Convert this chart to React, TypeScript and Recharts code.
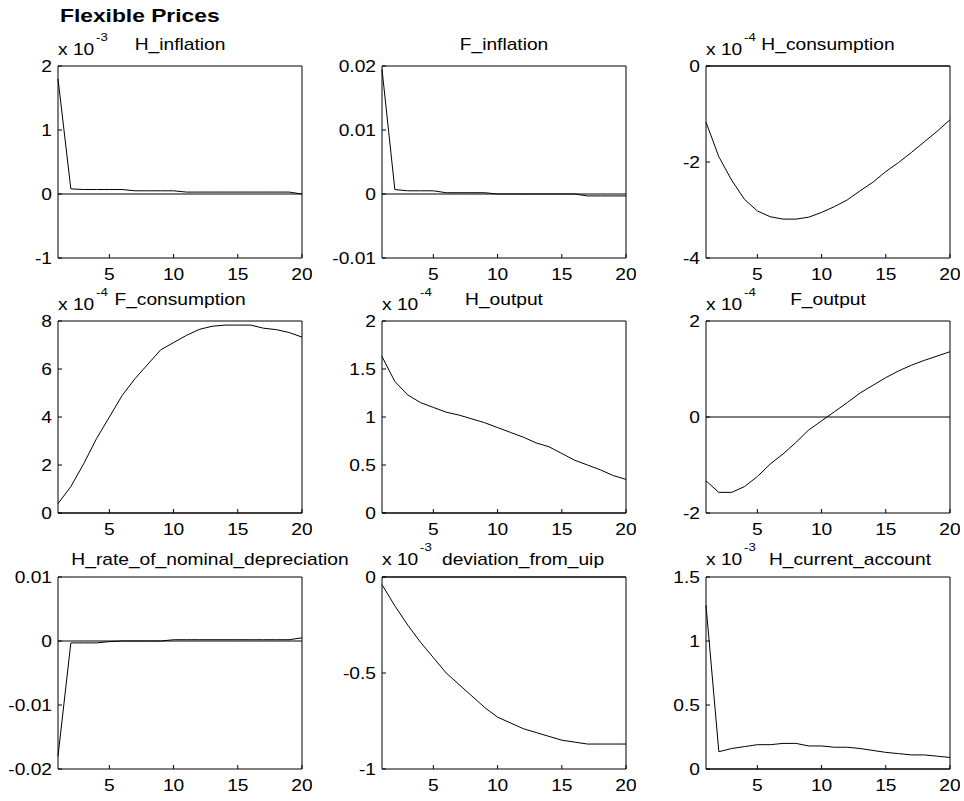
import React from 'react';
import { LineChart, Line, XAxis, YAxis, ReferenceLine } from 'recharts';

// periods of the impulse response
const periods = [1, 2, 3, 4, 5, 6, 7, 8, 9, 10, 11, 12, 13, 14, 15, 16, 17, 18, 19, 20];

// values (already in the units of its own axis)
const hInflation = [1.8, 0.08, 0.07, 0.07, 0.07, 0.07, 0.05, 0.05, 0.05, 0.05, 0.03, 0.03, 0.03, 0.03, 0.03, 0.03, 0.03, 0.03, 0.03, 0.0]; // x 10^-3
const fInflation = [0.0195, 0.0007, 0.0005, 0.0005, 0.0005, 0.0002, 0.0002, 0.0002, 0.0002, 0.0, 0.0, 0.0, 0.0, 0.0, 0.0, 0.0, -0.0003, -0.0003, -0.0003, -0.0003];
const hConsumption = [-1.17, -1.89, -2.38, -2.78, -3.02, -3.14, -3.19, -3.19, -3.15, -3.05, -2.93, -2.79, -2.6, -2.42, -2.2, -2.01, -1.8, -1.58, -1.36, -1.12]; // x 10^-4
const fConsumption = [0.39, 1.1, 2.05, 3.1, 4.0, 4.9, 5.6, 6.2, 6.8, 7.1, 7.4, 7.65, 7.78, 7.83, 7.83, 7.83, 7.7, 7.64, 7.52, 7.33]; // x 10^-4
const hOutput = [1.63, 1.37, 1.23, 1.15, 1.1, 1.05, 1.02, 0.98, 0.94, 0.89, 0.84, 0.79, 0.73, 0.69, 0.62, 0.55, 0.5, 0.45, 0.39, 0.35]; // x 10^-4
const fOutput = [-1.33, -1.57, -1.57, -1.45, -1.24, -0.98, -0.77, -0.53, -0.27, -0.08, 0.11, 0.3, 0.5, 0.66, 0.82, 0.96, 1.08, 1.18, 1.27, 1.36]; // x 10^-4
const hDepreciation = [-0.018, -0.0003, -0.0003, -0.0003, -0.0001, 0.0, 0.0, 0.0, 0.0, 0.0002, 0.0002, 0.0002, 0.0002, 0.0002, 0.0002, 0.0002, 0.0002, 0.0002, 0.0002, 0.0005];
const deviationUip = [-0.04, -0.15, -0.25, -0.34, -0.42, -0.5, -0.56, -0.62, -0.68, -0.73, -0.76, -0.79, -0.81, -0.83, -0.85, -0.86, -0.87, -0.87, -0.87, -0.87]; // x 10^-3
const hCurrentAccount = [1.28, 0.135, 0.16, 0.175, 0.19, 0.19, 0.2, 0.2, 0.18, 0.18, 0.17, 0.17, 0.16, 0.145, 0.13, 0.12, 0.11, 0.11, 0.1, 0.09]; // x 10^-3

const xTicks = [5, 10, 15, 20];

const panels = [
  { title: 'H_inflation', values: hInflation, domain: [-1, 2], ticks: [-1, 0, 1, 2], exp: '-3', dx: 0 },
  { title: 'F_inflation', values: fInflation, domain: [-0.01, 0.02], ticks: [-0.01, 0, 0.01, 0.02], exp: '', dx: 0 },
  { title: 'H_consumption', values: hConsumption, domain: [-4, 0], ticks: [-4, -2, 0], exp: '-4', dx: 0 },
  { title: 'F_consumption', values: fConsumption, domain: [0, 8], ticks: [0, 2, 4, 6, 8], exp: '-4', dx: 0 },
  { title: 'H_output', values: hOutput, domain: [0, 2], ticks: [0, 0.5, 1, 1.5, 2], exp: '-4', dx: 0 },
  { title: 'F_output', values: fOutput, domain: [-2, 2], ticks: [-2, 0, 2], exp: '-4', dx: 0 },
  { title: 'H_rate_of_nominal_depreciation', values: hDepreciation, domain: [-0.02, 0.01], ticks: [-0.02, -0.01, 0, 0.01], exp: '', dx: 30 },
  { title: 'deviation_from_uip', values: deviationUip, domain: [-1, 0], ticks: [-1, -0.5, 0], exp: '-3', dx: 19 },
  { title: 'H_current_account', values: hCurrentAccount, domain: [0, 1.5], ticks: [0, 0.5, 1, 1.5], exp: '-3', dx: 22 },
];

// layout of the 3x3 grid (plot box corners)
const colX = [58, 382, 706];
const rowY = [66, 321, 577];
const titleBase = [50, 305, 565];
const expBase = [55, 310, 565];
const PW = 244;
const PH = 192;

const FONT = '"Liberation Sans", Arial, Helvetica, sans-serif';
const SX = 1.2;

const YTick = (props: any) => {
  const { x, y, payload } = props;
  return (
    <text transform={`translate(${x - 6},${y + 5.5}) scale(${SX},1)`} textAnchor="end" fontSize={16} fontFamily={FONT} fill="#000">
      {payload.value}
    </text>
  );
};

const XTick = (props: any) => {
  const { x, y, payload } = props;
  return (
    <text transform={`translate(${x},${y + 22}) scale(${SX},1)`} textAnchor="middle" fontSize={16} fontFamily={FONT} fill="#000">
      {payload.value}
    </text>
  );
};

const Panel = ({ p, idx }: { p: (typeof panels)[number]; idx: number }) => {
  const col = idx % 3;
  const row = Math.floor(idx / 3);
  const data = periods.map((t, i) => ({ t, v: p.values[i] }));
  return (
    <div style={{ position: 'absolute', left: colX[col] - 60, top: rowY[row] - 10 }}>
      <LineChart width={60 + PW + 10} height={10 + PH + 30} data={data} margin={{ top: 9, right: 9, left: 0, bottom: 0 }}>
        <XAxis dataKey="t" type="number" domain={[1, 20]} ticks={xTicks} height={30} tickSize={-4} tickMargin={4}
          tick={<XTick />} axisLine={{ stroke: '#000' }} tickLine={{ stroke: '#000' }} />
        <XAxis xAxisId="top" orientation="top" dataKey="t" type="number" domain={[1, 20]} ticks={xTicks} height={1}
          tickSize={-4} tick={false} axisLine={{ stroke: '#000' }} tickLine={{ stroke: '#000' }} />
        <YAxis type="number" domain={p.domain} ticks={p.ticks} width={60} allowDataOverflow tickSize={-4} tickMargin={4}
          tick={<YTick />} axisLine={{ stroke: '#000' }} tickLine={{ stroke: '#000' }} />
        <YAxis yAxisId="right" orientation="right" type="number" domain={p.domain} ticks={p.ticks} width={1} allowDataOverflow
          tickSize={-4} tick={false} axisLine={{ stroke: '#000' }} tickLine={{ stroke: '#000' }} />
        <ReferenceLine y={0} stroke="#000" strokeWidth={1} />
        <Line type="linear" dataKey="v" stroke="#000" strokeWidth={1} dot={false} isAnimationActive={false} />
      </LineChart>
    </div>
  );
};

export default function App() {
  return (
    <div style={{ position: 'absolute', left: 0, top: 0, width: 964, height: 801, background: '#fff' }}>
      <svg width={964} height={801} style={{ position: 'absolute', left: 0, top: 0 }}>
        <text transform={`translate(60,22) scale(${SX},1)`} fontSize={19} fontWeight="bold" fontFamily={FONT} fill="#000">
          Flexible Prices
        </text>
        {panels.map((p, idx) => {
          const col = idx % 3;
          const row = Math.floor(idx / 3);
          return (
            <g key={p.title}>
              <text transform={`translate(${colX[col] + PW / 2 + p.dx},${titleBase[row]}) scale(${SX},1)`} textAnchor="middle"
                fontSize={16} fontFamily={FONT} fill="#000">
                {p.title}
              </text>
              {p.exp && (
                <g>
                  <text transform={`translate(${colX[col]},${expBase[row]}) scale(${SX},1)`} fontSize={16} fontFamily={FONT} fill="#000">
                    x 10
                  </text>
                  <text transform={`translate(${colX[col] + 38},${expBase[row] - 14}) scale(${SX},1)`} fontSize={11} fontFamily={FONT} fill="#000">
                    {p.exp}
                  </text>
                </g>
              )}
            </g>
          );
        })}
      </svg>
      {panels.map((p, idx) => (
        <Panel key={p.title} p={p} idx={idx} />
      ))}
    </div>
  );
}
